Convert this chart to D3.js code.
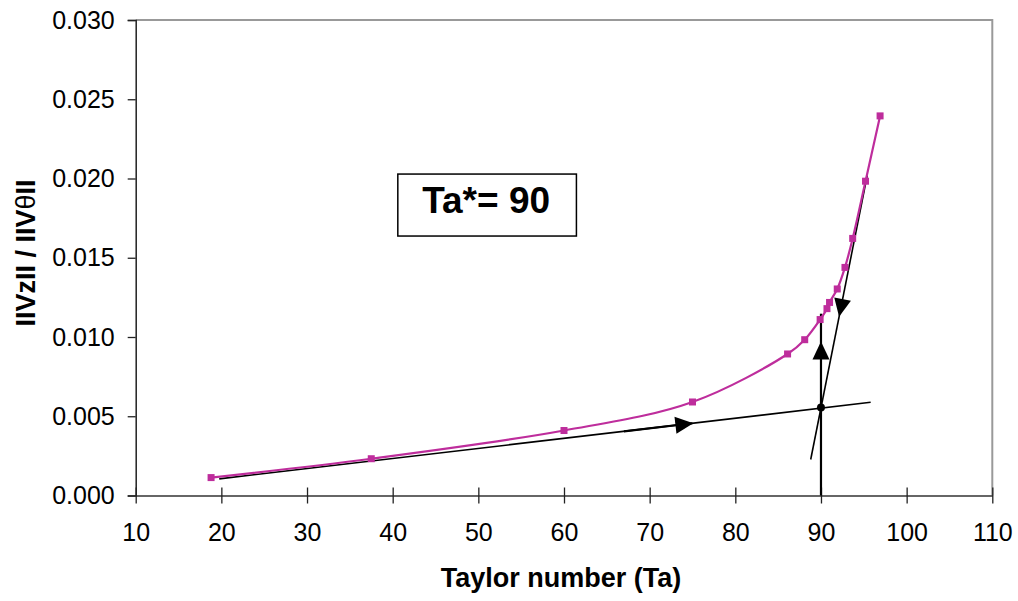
<!DOCTYPE html>
<html>
<head>
<meta charset="utf-8">
<script src="https://cdn.jsdelivr.net/npm/d3@7"></script>
<style>
  body { margin: 0; background: #fff; }
  text { font-family: Arial, "Liberation Sans", sans-serif; }
</style>
</head>
<body>
<svg id="chart" width="1018" height="601"></svg>
<script>
// data
const taylor = [18.8, 37.5, 60.0, 75.0, 86.1, 88.1, 89.9, 90.7, 91.0, 91.9, 92.8, 93.7, 95.2, 96.9];
const ratio  = [0.00113, 0.00232, 0.0041, 0.0059, 0.00893, 0.00983, 0.0111, 0.01179, 0.01218, 0.01303, 0.01439, 0.01622, 0.01983, 0.02395];

const xTicks = [10, 20, 30, 40, 50, 60, 70, 80, 90, 100, 110];
const yTicks = [0, 0.005, 0.010, 0.015, 0.020, 0.025, 0.030];

// construction lines
const lowTangent  = [[19.75, 0.00105], [95.8, 0.00588]];
const highTangent = [[88.8, 0.00227], [95.4, 0.0202]];
const critLine    = [[90, 0], [90, 0.01147]];
const crossPoint  = [90, 0.00555];
const taStar = 90;

const svg = d3.select("#chart");
const x = d3.scaleLinear().domain([10, 110]).range([135.7, 992.3]);
const y = d3.scaleLinear().domain([0, 0.030]).range([495.5, 20]);

// plot frame (top & right in grey)
svg.append("path")
    .attr("d", `M${x(10)},${y(0.030)}H${x(110)}V${y(0)}`)
    .attr("fill", "none")
    .attr("stroke", "#999")
    .attr("stroke-width", 2);

// y axis
const yAxis = svg.append("g").attr("transform", `translate(${x(10)},0)`)
    .call(d3.axisLeft(y).tickValues(yTicks).tickFormat(d3.format(".3f")).tickSize(8).tickPadding(13));
yAxis.select(".domain").attr("stroke", "#222").attr("stroke-width", 1.5);
yAxis.selectAll(".tick line").attr("stroke", "#222").attr("stroke-width", 1.3);
yAxis.selectAll("text").attr("font-size", 25).attr("fill", "#000");

// x axis, ticks crossing
const xAxis = svg.append("g").attr("transform", `translate(0,${y(0)})`)
    .call(d3.axisBottom(x).tickValues(xTicks).tickSize(8).tickPadding(20).tickSizeOuter(0));
xAxis.select(".domain").attr("stroke", "#333").attr("stroke-width", 1.5);
xAxis.selectAll(".tick line").attr("y1", -8).attr("stroke", "#222").attr("stroke-width", 1.3);
xAxis.selectAll("text").attr("font-size", 25).attr("fill", "#000");

// construction lines
const seg = d3.line().x(d => x(d[0])).y(d => y(d[1]));
[lowTangent, highTangent].forEach(l => {
  svg.append("path").attr("d", seg(l)).attr("fill", "none")
      .attr("stroke", "#000").attr("stroke-width", 1.6);
});
svg.append("path").attr("d", seg(critLine)).attr("fill", "none")
    .attr("stroke", "#000").attr("stroke-width", 2.2);
svg.append("path").attr("d", seg([[67, 0.00105 + (67 - 19.75) * (0.00588 - 0.00105) / (95.8 - 19.75)], [75, 0.00105 + (75 - 19.75) * (0.00588 - 0.00105) / (95.8 - 19.75)]]))
    .attr("fill", "none").attr("stroke", "#000").attr("stroke-width", 2.2);

// arrowheads: tip point and direction taken from the line they sit on
function arrow(line, tipT, reverse) {
  const [a, b] = line;
  const p0 = [x(a[0]), y(a[1])], p1 = [x(b[0]), y(b[1])];
  let dx = p1[0] - p0[0], dy = p1[1] - p0[1];
  const len = Math.hypot(dx, dy);
  dx /= len; dy /= len;
  if (reverse) { dx = -dx; dy = -dy; }
  const tip = [p0[0] + (p1[0] - p0[0]) * tipT, p0[1] + (p1[1] - p0[1]) * tipT];
  const L = 18, W = 8.5;
  const base = [tip[0] - dx * L, tip[1] - dy * L];
  const pts = [tip, [base[0] - dy * W, base[1] + dx * W], [base[0] + dy * W, base[1] - dx * W]];
  svg.append("path").attr("d", "M" + pts.join("L") + "Z").attr("fill", "#000");
}
arrow(lowTangent, (75.1 - 19.75) / (95.8 - 19.75), false);
arrow(critLine, 0.00972 / 0.01147, false);
arrow(highTangent, (0.0202 - 0.0112) / (0.0202 - 0.00227), true);

// intersection dot
svg.append("circle").attr("cx", x(crossPoint[0])).attr("cy", y(crossPoint[1]))
    .attr("r", 4).attr("fill", "#000");

// smoothed data curve
const pts = taylor.map((t, i) => [t, ratio[i]]);
svg.append("path")
    .attr("d", d3.line().x(d => x(d[0])).y(d => y(d[1])).curve(d3.curveCatmullRom.alpha(0.5))(pts))
    .attr("fill", "none")
    .attr("stroke", "#BE2D9C")
    .attr("stroke-width", 2.2);
svg.selectAll("rect.pt").data(pts).enter().append("rect")
    .attr("class", "pt")
    .attr("x", d => x(d[0]) - 3.5).attr("y", d => y(d[1]) - 3.5)
    .attr("width", 7).attr("height", 7)
    .attr("fill", "#BE2D9C");

// Ta* label box
const bx0 = x(40.6), bx1 = x(61.45), by0 = y(0.02028), by1 = y(0.01637);
svg.append("rect").attr("x", bx0).attr("y", by0).attr("width", bx1 - bx0).attr("height", by1 - by0)
    .attr("fill", "#fff").attr("stroke", "#000").attr("stroke-width", 1.5);
svg.append("text").attr("x", (bx0 + bx1) / 2 - 1).attr("y", by0 + 39)
    .attr("text-anchor", "middle").attr("font-size", 37).attr("font-weight", "bold")
    .text(`Ta*= ${taStar}`);

// axis titles
svg.append("text").attr("x", 561).attr("y", 587)
    .attr("text-anchor", "middle").attr("font-size", 27).attr("font-weight", "bold")
    .text("Taylor number (Ta)");

const yt = svg.append("text")
    .attr("transform", "translate(35,253) rotate(-90)")
    .attr("text-anchor", "middle").attr("font-size", 27).attr("font-weight", "bold");
yt.append("tspan").text("IIVzII / IIV");
yt.append("tspan").attr("font-weight", "normal").text("θ");
yt.append("tspan").text("II");
</script>
</body>
</html>
